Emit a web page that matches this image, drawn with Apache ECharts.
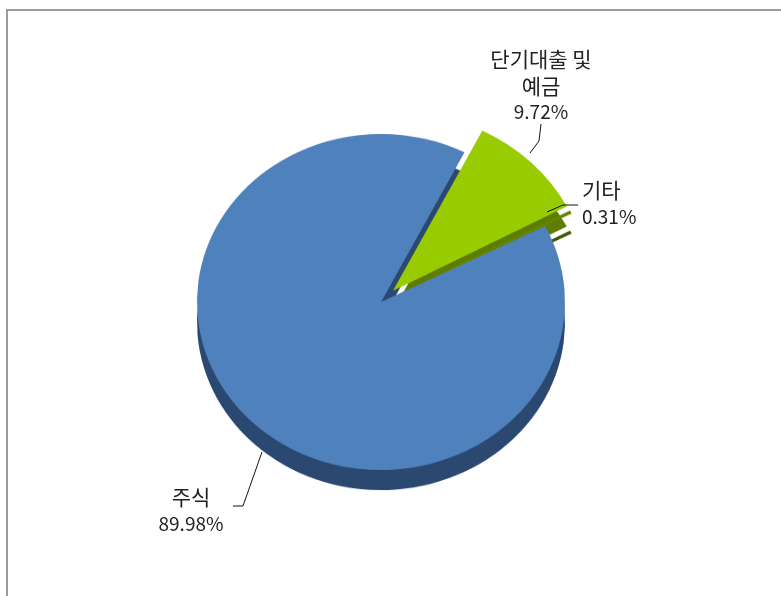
<!DOCTYPE html>
<html>
<head>
<meta charset="utf-8">
<script src="https://cdn.jsdelivr.net/npm/echarts@6/dist/echarts.min.js"></script>
<style>
  html, body { margin: 0; padding: 0; background: #fff; }
  #frame {
    position: absolute; left: 6px; top: 9px; width: 781px; height: 600px;
    border-top: 2px solid #9a9a9a; border-left: 2px solid #9a9a9a;
  }
  .layer { position: absolute; left: 0; top: 0; width: 781px; height: 596px; }
  /* 파이를 살짝 눌러 타원으로 보이게 */
  #pie { transform-origin: 0 302px; transform: scaleY(0.913); }
</style>
</head>
<body>
<div id="frame"></div>
<div id="pie" class="layer"></div>
<div id="labels" class="layer"></div>
<script>
// 자산 구성 비중 (%)
var categories = ['단기대출 및\n예금', '기타', '주식']
var shares = [9.72, 0.31, 89.98]
var topColors = ['#99cc00', '#668500', '#4f81bd']
var sideColors = ['#5e7c00', '#3f5a00', '#2b4970']
var exploded = [true, true, false]

var center = [381, 302]
var radius = 184
var explodedRadius = 197
var depth = 22

// 라벨 위치와 지시선
var labelPos = [
  { x: 541, y: 85, align: 'center', line: [[530, 153], [539, 141], [541, 124]] },
  { x: 582, y: 203, align: 'left', line: [[547, 212], [563, 205], [578, 205]] },
  { x: 191, y: 510, align: 'center', line: [[262, 452], [243, 506], [233, 506]] }
]

var clear = 'rgba(0,0,0,0)'

// part: 'main' = 고정 조각, 'out' = 떨어져 나온 조각
function buildData(colors, part) {
  return categories.map(function (name, i) {
    var visible = part === 'out' ? exploded[i] : !exploded[i]
    return {
      name: name,
      value: shares[i],
      selected: part === 'out' && exploded[i],
      itemStyle: { color: visible ? colors[i] : clear }
    }
  })
}

function pieSeries(colors, part, dy, z) {
  return {
    type: 'pie',
    silent: true,
    center: [center[0], center[1] + dy],
    radius: part === 'out' ? explodedRadius : radius,
    startAngle: 63,
    selectedMode: 'multiple',
    selectedOffset: 17,
    label: { show: false },
    labelLine: { show: false },
    z: z,
    data: buildData(colors, part)
  }
}

var pieChart = echarts.init(document.getElementById('pie'))
pieChart.setOption({
  animation: false,
  series: [
    pieSeries(sideColors, 'main', depth, 1),
    pieSeries(sideColors, 'out', depth, 1),
    pieSeries(topColors, 'main', 0, 2),
    pieSeries(topColors, 'out', 0, 2)
  ]
})

var labelChart = echarts.init(document.getElementById('labels'))
labelChart.setOption({
  animation: false,
  series: [{
    type: 'pie',
    silent: true,
    center: center,
    radius: 177,
    startAngle: 63,
    label: {
      show: true,
      position: 'outside',
      color: '#222',
      formatter: function (p) {
        var lines = p.name.split('\n').map(function (s) { return '{n|' + s + '}' })
        return lines.join('\n') + '\n{v|' + p.value.toFixed(2) + '%}'
      },
      rich: {
        n: { fontFamily: 'Noto Sans CJK KR', fontSize: 21, lineHeight: 27, color: '#222' },
        v: { fontFamily: 'Noto Sans CJK KR', fontSize: 19, lineHeight: 25, color: '#222' }
      }
    },
    labelLine: {
      show: true,
      lineStyle: { color: '#111', width: 1 }
    },
    labelLayout: function (p) {
      var l = labelPos[p.dataIndex]
      return { x: l.x, y: l.y, align: l.align, verticalAlign: 'middle', labelLinePoints: l.line }
    },
    data: categories.map(function (name, i) {
      return { name: name, value: shares[i], itemStyle: { color: clear } }
    })
  }]
})
</script>
</body>
</html>
